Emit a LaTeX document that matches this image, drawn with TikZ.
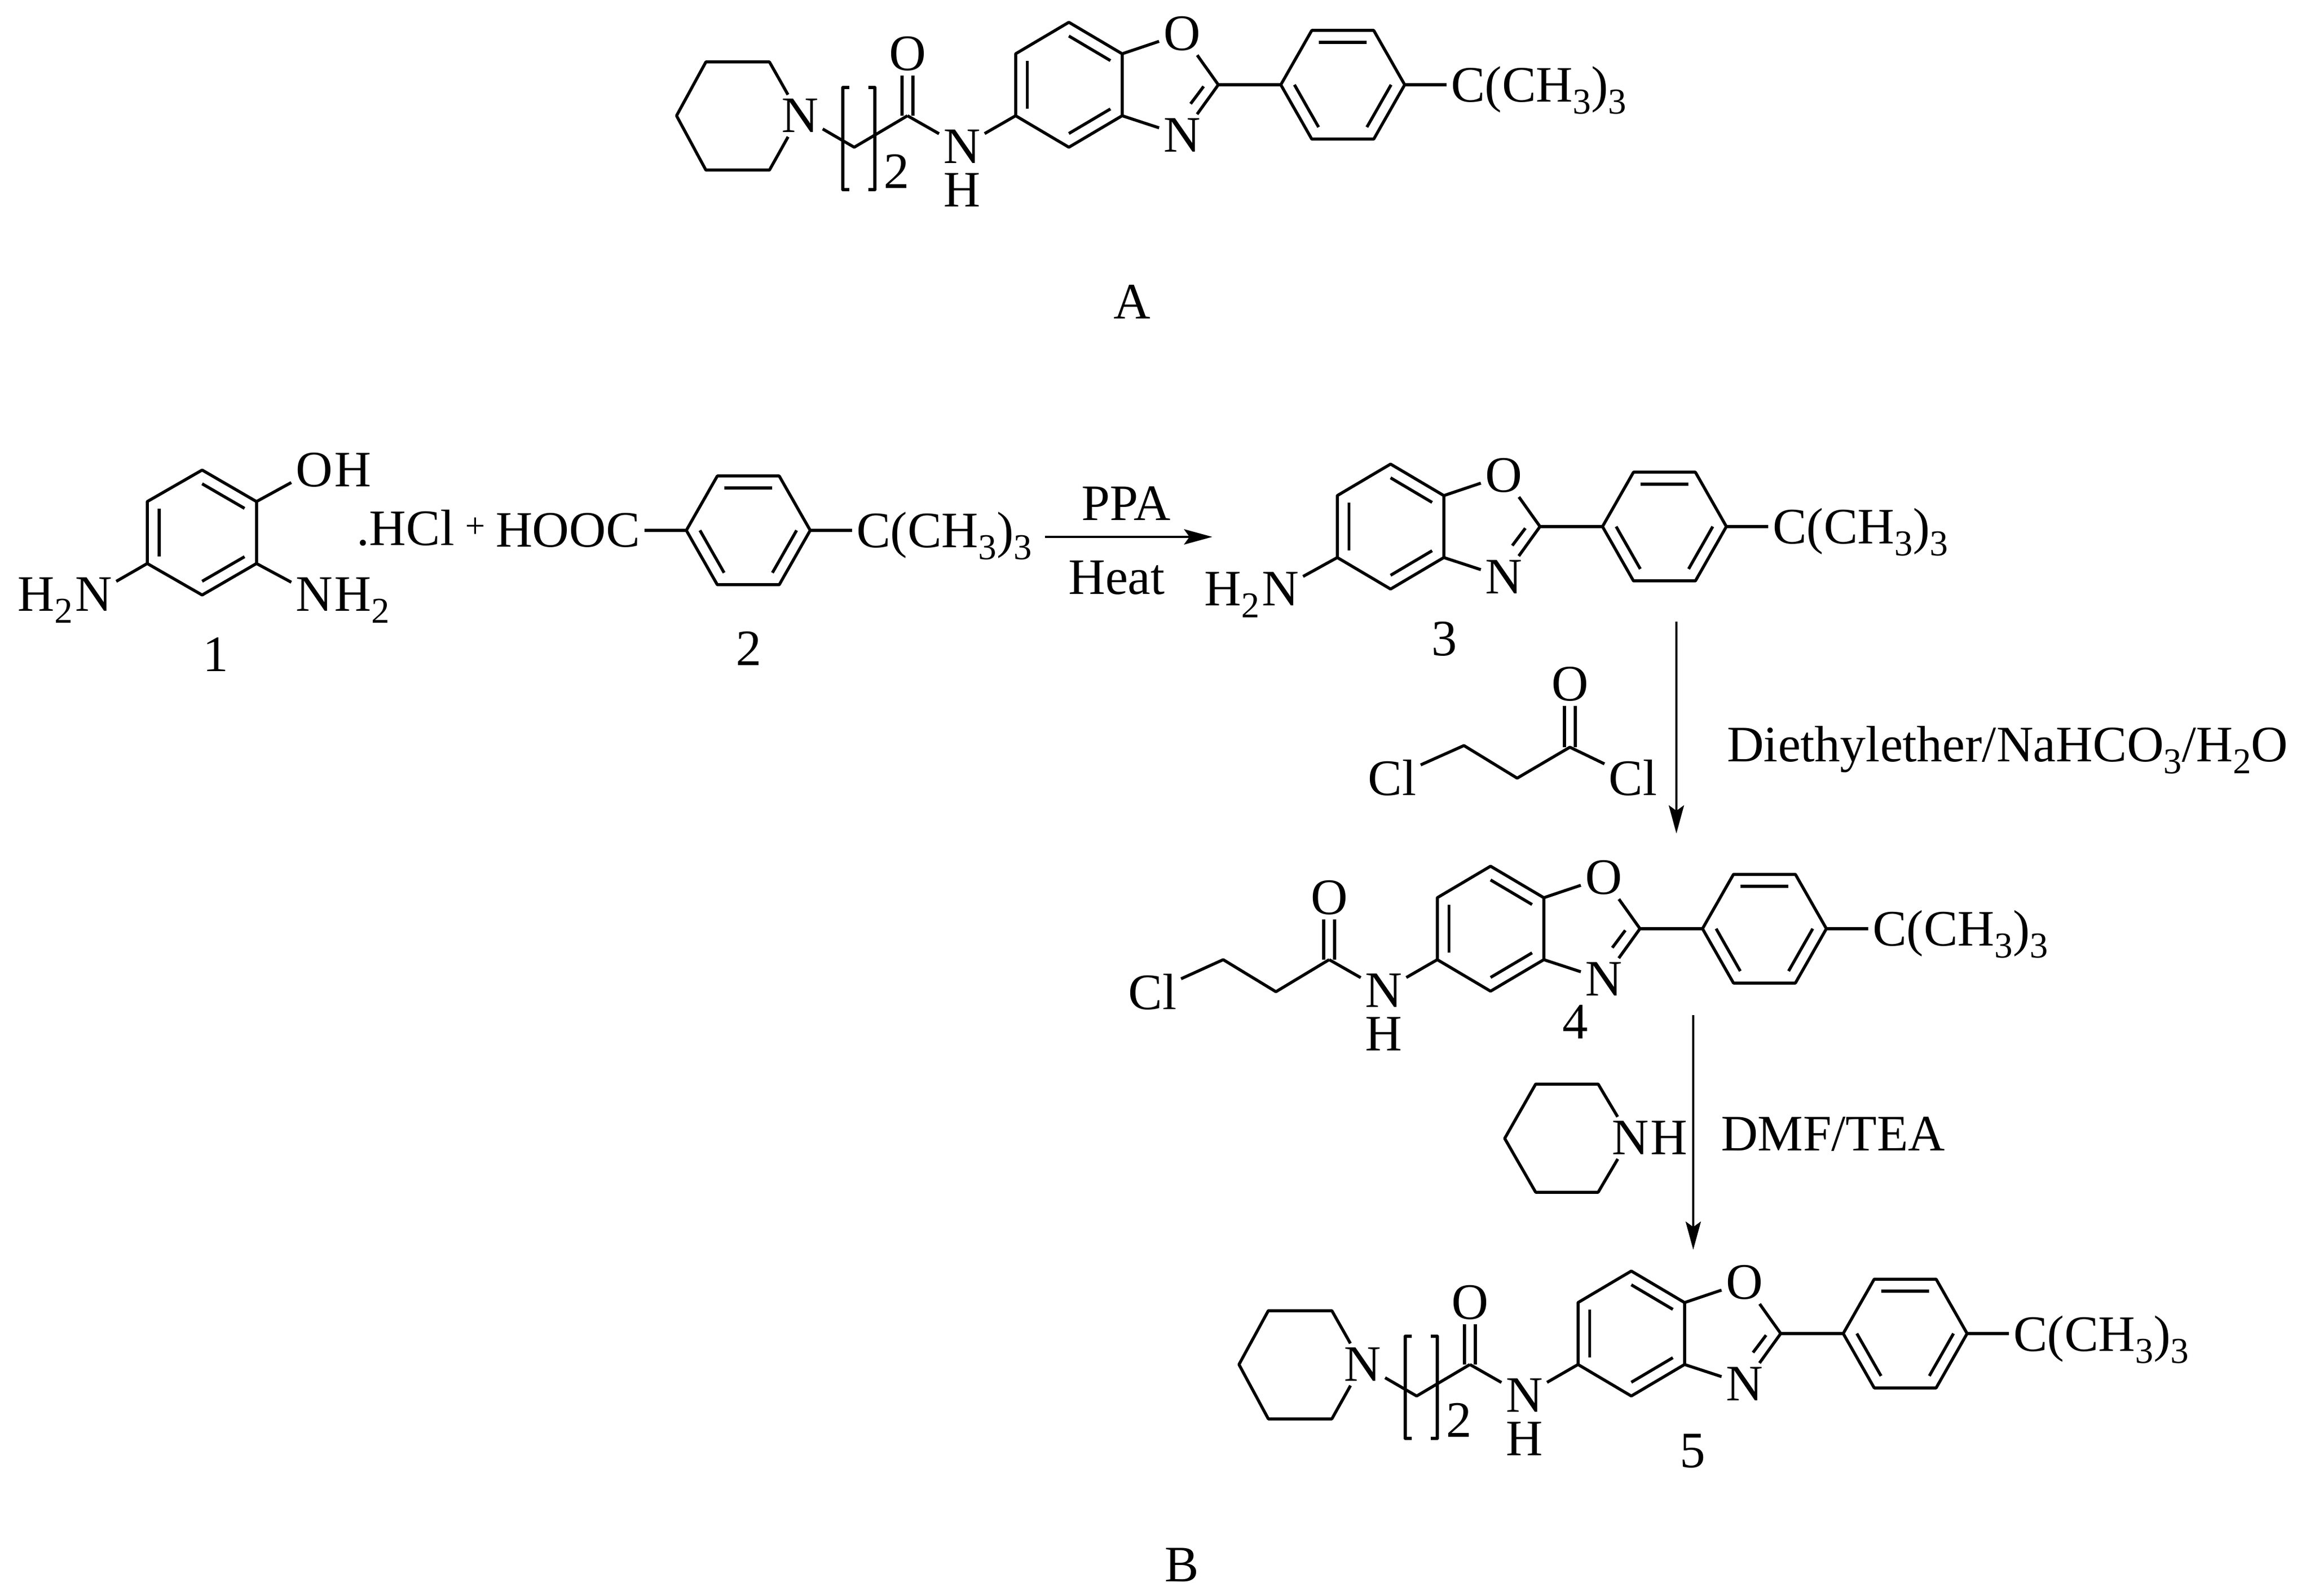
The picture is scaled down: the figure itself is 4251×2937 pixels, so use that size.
\documentclass[tikz,border=0pt]{standalone}
\usepackage{fontspec}
\setmainfont{Liberation Serif}
\usetikzlibrary{calc,arrows.meta}
\tikzset{
  atom/.style={inner sep=0.6pt,font=\fontsize{9.4}{11}\selectfont},
  bond/.style={line width=0.55pt,line join=round},
  rxn/.style={line width=0.45pt,-{Stealth[length=5.2pt,width=2.8pt,inset=1pt]}}
}
\newcommand{\lowr}[1]{\raisebox{-2.2pt}{\fontsize{6.7}{7}\selectfont #1}}
\newcommand{\innerbond}[3]{\draw[bond] ($(#1)!.22!(#3)$) -- ($(#2)!.22!(#3)$);}
\newcommand{\phenyltail}[3]{
\begin{scope}[shift={(#2,#3)}]
\coordinate (#1pc) at (0,0);
\coordinate (#1p1) at (-114,0);
\coordinate (#1p2) at (-57,-100);
\coordinate (#1p3) at (57,-100);
\coordinate (#1p4) at (114,0);
\coordinate (#1p5) at (57,100);
\coordinate (#1p6) at (-57,100);
\node[atom,anchor=base west] (#1tb) at (191,32) {C(CH\lowr{3})\lowr{3}};
\draw[bond] (#1p1) -- (#1p2) -- (#1p3) -- (#1p4) -- (#1p5) -- (#1p6) -- cycle;
\draw[bond] (#1p4) -- (#1p4 -| #1tb.west);
\innerbond{#1p2}{#1p3}{#1pc}
\innerbond{#1p4}{#1p5}{#1pc}
\innerbond{#1p6}{#1p1}{#1pc}
\end{scope}
}
\newcommand{\benzox}[3]{
\begin{scope}[shift={(#2,#3)}]
\coordinate (#1rc) at (0,0);
\coordinate (#1r1) at (0,-115);
\coordinate (#1r2) at (98,-57);
\coordinate (#1r3) at (98,57);
\coordinate (#1r4) at (0,115);
\coordinate (#1r5) at (-98,57);
\coordinate (#1r6) at (-98,-57);
\coordinate (#1c2) at (275,0);
\coordinate (#1i1) at (248,3);
\coordinate (#1i2) at (224,35);
\node[atom] (#1ox) at (208,-94) {O};
\node[atom] (#1nz) at (208,93) {N};
\draw[bond] (#1r1) -- (#1r2) -- (#1r3) -- (#1r4) -- (#1r5) -- (#1r6) -- cycle;
\innerbond{#1r1}{#1r2}{#1rc}
\innerbond{#1r3}{#1r4}{#1rc}
\innerbond{#1r5}{#1r6}{#1rc}
\draw[bond] (#1r2) -- (#1ox);
\draw[bond] (#1ox) -- (#1c2);
\draw[bond] (#1c2) -- (#1nz);
\draw[bond] (#1nz) -- (#1r3);
\draw[bond] (#1i1) -- (#1i2);
\phenyltail{#1}{504}{0}
\draw[bond] (#1c2) -- (#1p1);
\end{scope}
}
\newcommand{\amide}[3]{
\begin{scope}[shift={(#2,#3)}]
\coordinate (#1co) at (-297,57);
\node[atom] (#1ko) at (-297,-57) {O};
\node[atom] (#1an) at (-197,114) {N};
\node[atom] (#1ah) at (-197,194) {H};
\draw[bond] ([xshift=-1pt]#1ko.south) -- ([xshift=-1pt]#1co);
\draw[bond] ([xshift=1pt]#1ko.south) -- ([xshift=1pt]#1co);
\draw[bond] (#1co) -- (#1an);
\draw[bond] (#1an) -- (#1r5);
\end{scope}
}
\newcommand{\pipchain}[3]{
\begin{scope}[shift={(#2,#3)}]
\coordinate (#1ch) at (-395,115);
\coordinate (#1s1) at (-551,-42);
\coordinate (#1s2) at (-668,-42);
\coordinate (#1s3) at (-722,57);
\coordinate (#1s4) at (-668,157);
\coordinate (#1s5) at (-551,157);
\node[atom] (#1pn) at (-495,57) {N};
\node[atom] (#1rp) at (-317,159) {2};
\draw[bond] (#1pn) -- (#1s1) -- (#1s2) -- (#1s3) -- (#1s4) -- (#1s5) -- (#1pn);
\draw[bond] (#1pn) -- (#1ch) -- (#1co);
\draw[bond] (-404,5) -- (-416,5) -- (-416,193) -- (-404,193);
\draw[bond] (-369,5) -- (-357,5) -- (-357,193) -- (-369,193);
\end{scope}
}
\begin{document}
\begin{tikzpicture}[x=0.1pt,y=-0.1pt]
\useasboundingbox (0,0) rectangle (4251,2937);
% target A
\benzox{a}{1967}{156}
\amide{a}{1967}{156}
\pipchain{a}{1967}{156}
\node[atom] (labA) at (2083,555) {A};
% 1
\coordinate (ac) at (372,980);
\coordinate (a1) at (372,865);
\coordinate (a2) at (472,923);
\coordinate (a3) at (472,1037);
\coordinate (a4) at (372,1095);
\coordinate (a5) at (271,1037);
\coordinate (a6) at (271,923);
\node[atom] (ohO) at (578,865) {O};
\node[atom,anchor=base west] (ohH) at ([xshift=-1.2pt]ohO.base east) {H};
\node[atom] (amN1) at (578,1094) {N};
\node[atom,anchor=base west] (amH1) at ([xshift=-1.2pt]amN1.base east) {H\lowr{2}};
\node[atom] (amN2) at (172,1094) {N};
\node[atom,anchor=base east] (amH2) at ([xshift=1.2pt]amN2.base west) {H\lowr{2}};
\draw[bond] (a1) -- (a2) -- (a3) -- (a4) -- (a5) -- (a6) -- cycle;
\innerbond{a1}{a2}{ac}
\innerbond{a3}{a4}{ac}
\innerbond{a5}{a6}{ac}
\draw[bond] (a2) -- (ohO);
\draw[bond] (a3) -- (amN1);
\draw[bond] (a5) -- (amN2);
\node[atom] (lab1) at (397,1204) {1};
\node[atom,anchor=base west] (hcl) at (648,1004) {.HCl};
\node[atom,font=\fontsize{6.5}{8}\selectfont] (plus) at (875,971) {+};
% 2
\phenyltail{b}{1377}{976}
\node[atom,anchor=base west] (hooc) at (904,1007) {HOOC};
\draw[bond] (bp1) -- (bp1 -| hooc.east);
\node[atom] (lab2) at (1378,1193) {2};
% 3
\coordinate (arrS1) at (1923,988);
\coordinate (arrE1) at (2231,988);
\draw[rxn] (arrS1) -- (arrE1);
\node[atom,anchor=base] (ppa) at (2072,957) {PPA};
\node[atom,anchor=base] (heat) at (2055,1094) {Heat};
\benzox{c}{2559}{969}
\node[atom] (amN3) at (2356,1084) {N};
\node[atom,anchor=base east] (amH3) at ([xshift=1.2pt]amN3.base west) {H\lowr{2}};
\draw[bond] (cr5) -- (amN3);
\node[atom] (lab3) at (2658,1176) {3};
% acid chloride
\coordinate (dC1) at (2694,1372);
\coordinate (dC2) at (2792,1432);
\coordinate (dC3) at (2889,1375);
\node[atom] (dO) at (2889,1259) {O};
\node[atom] (dCl1) at (2562,1431) {Cl};
\node[atom] (dCl2) at (3005,1431) {Cl};
\draw[bond] (dCl1) -- (dC1) -- (dC2) -- (dC3) -- (dCl2);
\draw[bond] ([xshift=-1pt]dO.south) -- ([xshift=-1pt]dC3);
\draw[bond] ([xshift=1pt]dO.south) -- ([xshift=1pt]dC3);
\coordinate (arrS2) at (3085,1144);
\coordinate (arrE2) at (3085,1534);
\draw[rxn] (arrS2) -- (arrE2);
\node[atom,anchor=base west] (cond2) at (3170,1401) {Diethylether/NaHCO\lowr{3}/H\lowr{2}O};
% 4
\benzox{e}{2743}{1709}
\amide{e}{2743}{1709}
\coordinate (eC1) at (2348,1825);
\coordinate (eC2) at (2251,1766);
\node[atom] (eCl) at (2121,1825) {Cl};
\draw[bond] (eco) -- (eC1) -- (eC2) -- (eCl);
\node[atom] (lab4) at (2899,1881) {4};
% piperidine
\coordinate (f1) at (2941,1995);
\coordinate (f2) at (2826,1995);
\coordinate (f3) at (2769,2095);
\coordinate (f4) at (2826,2194);
\coordinate (f5) at (2941,2194);
\node[atom] (fN) at (3000,2094) {N};
\node[atom,anchor=base west] (fH) at ([xshift=-1.2pt]fN.base east) {H};
\draw[bond] (fN) -- (f1) -- (f2) -- (f3) -- (f4) -- (f5) -- (fN);
\coordinate (arrS3) at (3116,1868);
\coordinate (arrE3) at (3116,2300);
\draw[rxn] (arrS3) -- (arrE3);
\node[atom,anchor=base west] (cond3) at (3159,2117) {DMF/TEA};
% 5
\benzox{g}{3002}{2454}
\amide{g}{3002}{2454}
\pipchain{g}{3002}{2454}
\node[atom] (lab5) at (3115,2670) {5};
\node[atom] (labB) at (2175,2880) {B};
\end{tikzpicture}
\end{document}
